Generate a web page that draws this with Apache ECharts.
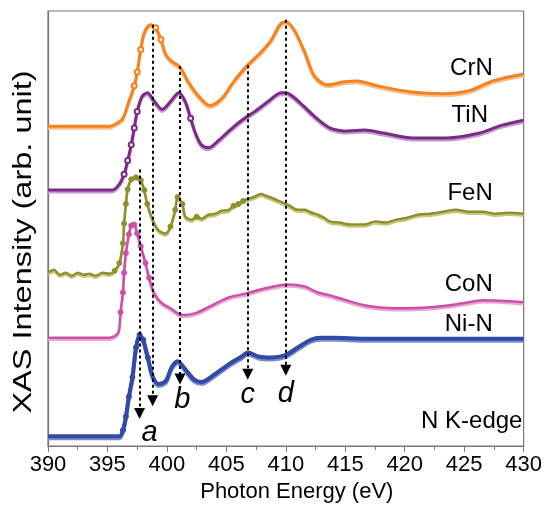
<!DOCTYPE html>
<html lang="en">
<head>
<meta charset="UTF-8">
<title>N K-edge XAS</title>
<style>
  html, body { margin: 0; padding: 0; background: #fff; }
  #main { width: 545px; height: 508px; }
</style>
</head>
<body>
<div id="main"></div>
<script src="https://cdn.jsdelivr.net/npm/echarts@6/dist/echarts.min.js"></script>
<script>
// spectra: [photon energy (eV), intensity incl. vertical offset (arb.)]
var crN = [[390,325],[392,325],[394,325],[395.2,325],[395.8,328],[396.3,333],[396.8,350],[397.25,366],[397.5,380],
  [397.8,403],[398.1,420],[398.6,428],[399.05,425],[399.5,413],[399.9,398],[400.4,391],[401.1,385],[401.8,370],
  [402.7,355],[403.6,346],[404.6,353],[405.6,370],[406.7,386],[407.9,400],[408.8,413],[409.5,428],[410,431],
  [410.7,423],[411.6,400],[412.4,376],[413.5,367],[414.9,370],[416,371],[417.7,366],[420.4,360],[423.2,358],
  [425.4,361],[427.4,371],[430,378]];

var tiN = [[390,260],[392,260],[394,260],[395.4,260],[396,266],[396.4,276],[396.7,290],[397,306],[397.25,323],
  [397.5,340],[397.9,355],[398.35,359],[398.9,351],[399.6,342],[400.3,350],[401,359],[401.55,350],[402,333],
  [402.4,318],[402.9,306],[403.5,303],[404.3,310],[405.2,320],[406.3,331],[407.4,340],[408.5,350],[409.6,359],
  [410,359],[411,351],[412.5,334],[413.75,323],[415.2,320],[416.6,321],[418.2,318],[420.7,313],[423.5,313],
  [426.3,318],[428.2,326],[430,331]];

var feN = [[390,176],[390.5,179],[391,174],[391.5,176],[392,173],[392.5,176],[393,174],[393.5,175],[394,173],
  [394.6,176],[395.2,175],[395.6,178],[396,186],[396.3,206],[396.4,226],[396.55,246],[396.7,261],[397,271],
  [397.4,273],[397.8,270],[398.1,260],[398.35,246],[398.8,230],[399.3,219],[399.9,216],[400.3,223],[400.7,240],
  [400.9,253],[401.3,246],[401.55,233],[402.1,230],[402.5,233],[402.9,231],[403.5,235],[404.05,236],[404.6,239],
  [405.2,240],[405.6,244],[406,246],[406.4,249],[406.8,251],[407.3,253],[407.9,256],[408.4,254],[409.05,251],
  [409.6,248],[410.2,245],[411,240],[411.6,240],[412.2,237],[412.7,235],[413.2,232],[413.75,228],[414.5,227],
  [415.5,225],[416.6,225],[417.5,228],[418.4,227],[419.3,230],[420.2,232],[421.1,235],[422.1,236],[423.2,238],
  [424.3,240],[425.4,238],[426.6,238],[427.6,236],[428.7,237],[430,236]];

var coN = [[390,110],[392,110],[394,110],[395.2,110],[395.9,115],[396.1,136],[396.3,156],[396.4,176],[396.55,196],
  [396.8,215],[397,224],[397.25,225],[397.5,216],[397.8,203],[398.2,186],[398.5,171],[398.9,156],[399.5,146],
  [400.3,140],[401.3,133],[402.4,135],[403.8,143],[405.2,151],[406.7,155],[408.2,160],[410.2,164],[411.6,162],
  [412.7,156],[413.75,153],[416.6,143],[419.3,140],[422.1,141],[424.9,145],[426.6,148],[430,146]];

var niN = [[390,10],[392,10],[394,10],[396,10],[396.3,16],[396.55,30],[396.8,50],[397.1,70],[397.4,100],
  [397.7,113],[398,108],[398.4,90],[398.8,71],[399.3,63],[399.9,66],[400.4,80],[400.9,86],[401.55,78],
  [402.25,68],[402.9,65],[403.8,71],[405.2,83],[406.3,91],[406.8,95],[407.7,91],[408.8,90],[409.9,92],
  [411,100],[412.1,108],[412.9,110],[414.05,110],[416.6,109],[420,109],[425,109],[430,109]];

// dashed markers: [energy, top of line, arrow head]
var peakLines = [[397.7, 281, 33], [398.8, 428, 46], [401.1, 386, 68], [406.8, 387, 73], [410.0, 433, 77]];
var peakNames = [['a', 398.55, 13], ['b', 401.3, 47], ['c', 406.8, 52], ['d', 410.0, 53]];
var curveNames = [['CrN', 427.4, 384], ['TiN', 427, 336], ['FeN', 427.4, 257], ['CoN', 427.4, 164], ['Ni-N', 427.4, 124], ['N K-edge', 429.9, 25]];
var xTicks = [390, 395, 400, 405, 410, 415, 420, 425, 430];

var myChart = echarts.init(document.getElementById('main'));

// markers only where the points sit close together (the steep parts), like the dotted edges in the figure
function withMarks(data) {
    return data.map(function (p, i) {
        var prev = data[Math.max(i - 1, 0)][0], next = data[Math.min(i + 1, data.length - 1)][0];
        var close = (p[0] - prev) < 0.45 && (next - p[0]) < 0.45;
        return close ? { value: p } : { value: p, symbol: 'none' };
    });
}

function spec(name, data, color, light, symbol, lw) {
    return {
        name: name,
        type: 'line',
        data: withMarks(data),
        smooth: 0.3,
        symbol: symbol,
        symbolSize: 5,
        showAllSymbol: true,
        itemStyle: { color: color, borderColor: color, borderWidth: 1 },
        lineStyle: { color: color, width: lw, shadowColor: light, shadowOffsetY: 2, shadowBlur: 0 },
        z: 3
    };
}

option = {
    animation: false,
    backgroundColor: '#fff',
    grid: { left: 48, right: 17, top: 11, bottom: 55, show: true, borderColor: '#777', borderWidth: 1.2 },
    xAxis: {
        type: 'value', min: 390, max: 430, interval: 5,
        name: 'Photon Energy (eV)', nameLocation: 'middle', nameGap: 35,
        nameTextStyle: { fontFamily: 'Liberation Sans', fontSize: 22, color: '#000', padding: [0, 0, 0, 22] },
        axisLine: { lineStyle: { color: '#777', width: 1.2 } },
        axisTick: { show: true, inside: false, length: 6, lineStyle: { color: '#777' } },
        minorTick: { show: true, splitNumber: 2, length: 4, lineStyle: { color: '#777' } },
        axisLabel: { fontFamily: 'Liberation Sans', fontSize: 22, color: '#000', margin: 8,
            formatter: function (v) { return xTicks.indexOf(v) >= 0 ? v : ''; } },
        splitLine: { show: false }
    },
    yAxis: {
        type: 'value', min: 0, max: 442,
        axisLine: { show: true, lineStyle: { color: '#777', width: 1.2 } },
        axisTick: { show: false },
        axisLabel: { show: false },
        splitLine: { show: false }
    },
    graphic: [{
        type: 'text', x: 24, y: 242, rotation: Math.PI / 2, scaleX: 1.25, silent: true,
        style: { text: 'XAS Intensity (arb. unit)', fontFamily: 'Liberation Sans', fontSize: 26,
            fill: '#000', textAlign: 'center', textVerticalAlign: 'middle' }
    }],
    series: [
        spec('CrN', crN, '#f5821f', '#f9c08e', 'emptyCircle', 3),
        spec('TiN', tiN, '#7b2a88', '#c49ccc', 'emptyCircle', 3),
        spec('FeN', feN, '#8e9030', '#c8c87a', 'circle', 2.5),
        spec('CoN', coN, '#cc4fa8', '#e8a8d4', 'circle', 2.5),
        spec('Ni-N', niN, '#3349a8', '#7a8ccc', 'circle', 4),
        {
            type: 'line', data: [], silent: true, z: 5,
            markLine: {
                silent: true, animation: false,
                symbol: ['none', 'triangle'], symbolSize: [11, 11],
                label: { show: false },
                lineStyle: { color: '#000', width: 2, type: [3, 3] },
                emphasis: { disabled: true },
                data: peakLines.map(function (p) {
                    return [{ coord: [p[0], p[1]] }, { coord: [p[0], p[2]] }];
                })
            }
        },
        {
            type: 'scatter', symbolSize: 0, silent: true, z: 6, itemStyle: { opacity: 1 },
            data: peakNames.map(function (p) { return { value: [p[1], p[2]], name: p[0] }; }),
            label: { show: true, position: [0, 0], align: 'center', verticalAlign: 'middle',
                formatter: '{b}', fontFamily: 'Liberation Sans', fontStyle: 'italic', fontSize: 29, color: '#000' }
        },
        {
            type: 'scatter', symbolSize: 0, silent: true, z: 6, itemStyle: { opacity: 1 },
            data: curveNames.map(function (p) { return { value: [p[1], p[2]], name: p[0] }; }),
            label: { show: true, position: [0, 0], align: 'right', verticalAlign: 'middle',
                formatter: '{b}', fontFamily: 'Liberation Sans', fontSize: 24, color: '#000' }
        }
    ]
};
myChart.setOption(option);
</script>
</body>
</html>
